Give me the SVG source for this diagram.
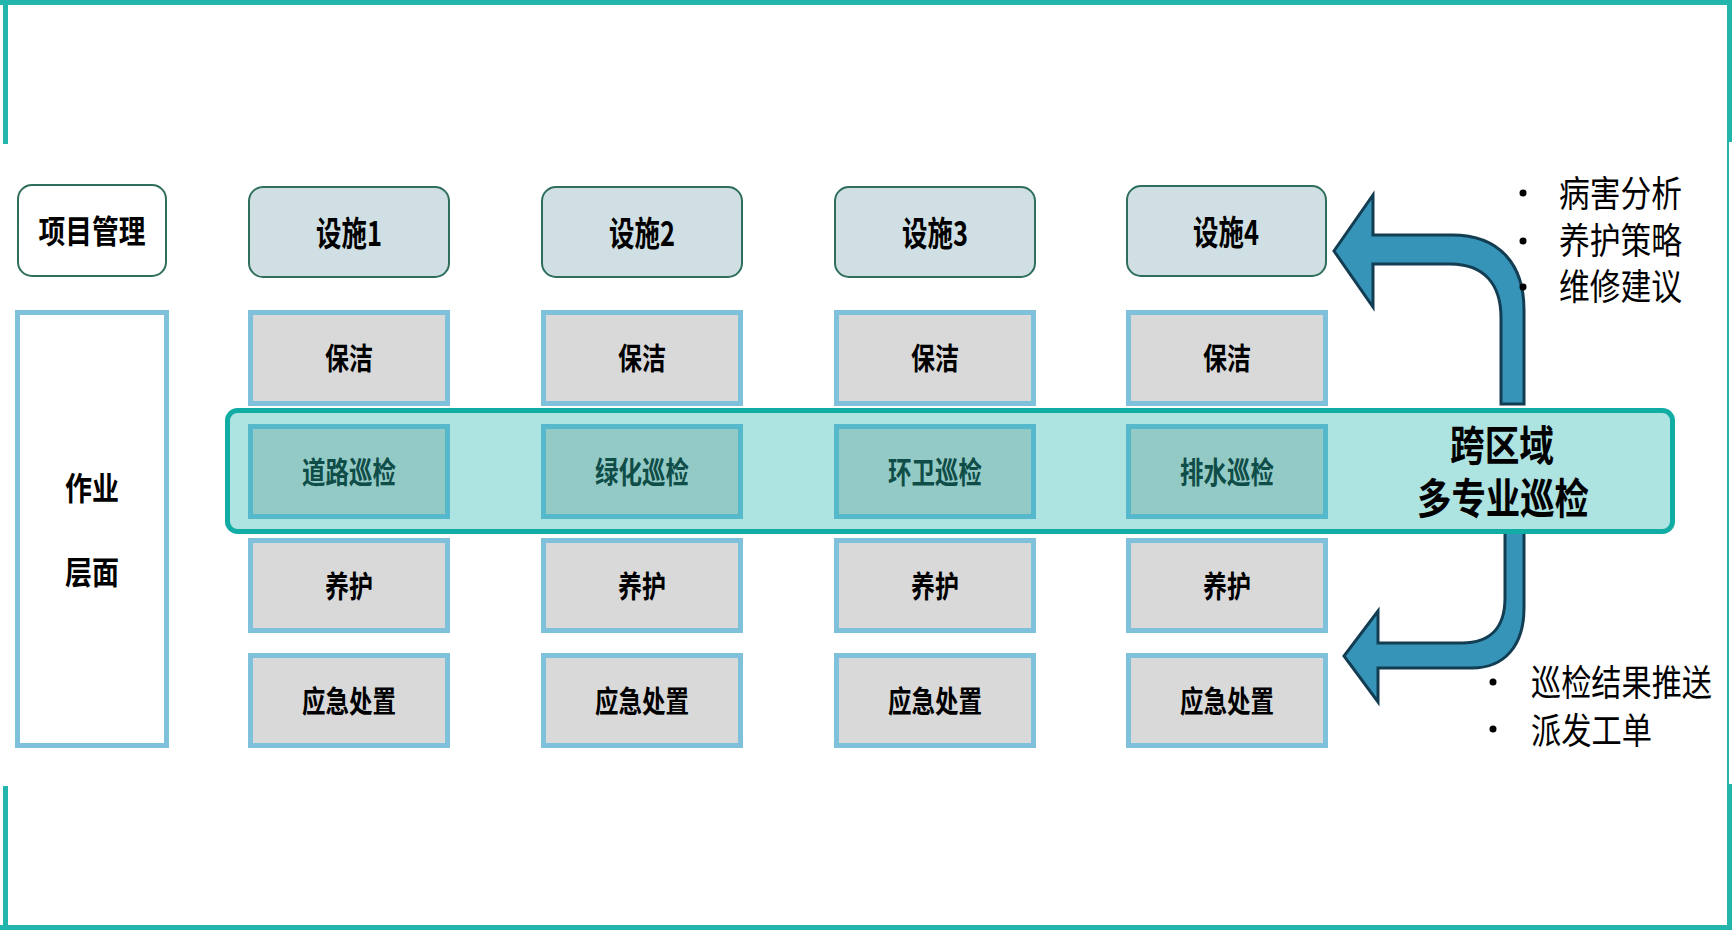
<svg xmlns="http://www.w3.org/2000/svg" width="1732" height="930" viewBox="0 0 1732 930">
<style>
.hdr{fill:#cfdfe3;stroke:#2f6e5c;stroke-width:2}
.pm{fill:#ffffff;stroke:#2f6e5c;stroke-width:2}
.cell{fill:#d9d9d9;stroke:#7fc0db;stroke-width:5}
.side{fill:#ffffff;stroke:#7fc0db;stroke-width:5}
.pat{fill:#94cac6;stroke:#56b9cb;stroke-width:5}
.band{fill:#ade3e1;stroke:#11aca3;stroke-width:5}
.arrow{fill:#3594b8;stroke:#123d52;stroke-width:3;stroke-linejoin:miter}
.frame{fill:none;stroke:#22b5ab}
text{font-family:"Noto Sans CJK SC","Liberation Sans",sans-serif;text-anchor:middle;dominant-baseline:central}
.b{font-weight:bold;fill:#000}
.t{font-weight:bold;fill:#0f4d48}
.r{font-weight:normal;fill:#000;text-anchor:start}
</style>
<g id="frame">
<path class="frame" stroke-width="5" d="M0,2.5 H1732 M5.5,0 V144 M5.5,786 V930 M0,927.5 H1732 M1729.5,0 V142 M1729.5,784 V930"/>
<path class="frame" stroke-width="2" d="M1728,142 V784"/>
</g>
<g id="connectors">
<path class="arrow" d="M1501,404 L1501,318 C1501,285 1485,264 1450,264 L1373,264 L1373,307 L1334,251 L1373,195 L1373,235 L1452,235 C1500,235 1524,265 1524,310 L1524,404 Z"/>
<path class="arrow" d="M1505,530 L1505,598 C1505,628 1490,643 1462,643 L1378,643 L1378,611 L1344,656 L1378,702 L1378,668 L1472,668 C1505,668 1524,645 1524,608 L1524,530 Z"/>
</g>
<g id="band"><rect class="band" x="227.5" y="410.5" width="1445" height="121" rx="10"/>
<text class="b" x="1502" y="442" font-size="42" textLength="104" lengthAdjust="spacingAndGlyphs">跨区域</text>
<text class="b" x="1503" y="495" font-size="42" textLength="172" lengthAdjust="spacingAndGlyphs">多专业巡检</text>
</g>
<g id="pm"><rect class="pm" x="18" y="185" width="148" height="91" rx="14"/><text class="b" x="92" y="229" font-size="32" textLength="107" lengthAdjust="spacingAndGlyphs">项目管理</text></g>
<g id="work"><rect class="side" x="17.5" y="312.5" width="149" height="433"/>
<text class="b" x="92" y="486" font-size="32" textLength="54" lengthAdjust="spacingAndGlyphs">作业</text>
<text class="b" x="92" y="570" font-size="32" textLength="54" lengthAdjust="spacingAndGlyphs">层面</text></g>
<g id="col1">
<g id="h1"><rect class="hdr" x="249" y="187" width="200" height="90" rx="14"/><text class="b" x="349" y="231" font-size="34" textLength="66" lengthAdjust="spacingAndGlyphs">设施1</text></g>
<g id="c1a"><rect class="cell" x="250.5" y="312.5" width="197" height="91"/><text class="b" x="349" y="356" font-size="30" textLength="48" lengthAdjust="spacingAndGlyphs">保洁</text></g>
<g id="c1b"><rect class="pat" x="250.5" y="426.5" width="197" height="90"/><text class="t" x="349" y="470" font-size="30" textLength="94" lengthAdjust="spacingAndGlyphs">道路巡检</text></g>
<g id="c1c"><rect class="cell" x="250.5" y="540.5" width="197" height="90"/><text class="b" x="349" y="584" font-size="30" textLength="48" lengthAdjust="spacingAndGlyphs">养护</text></g>
<g id="c1d"><rect class="cell" x="250.5" y="655.5" width="197" height="90"/><text class="b" x="349" y="699" font-size="30" textLength="94" lengthAdjust="spacingAndGlyphs">应急处置</text></g>
</g>
<g id="col2">
<g id="h2"><rect class="hdr" x="542" y="187" width="200" height="90" rx="14"/><text class="b" x="642" y="231" font-size="34" textLength="66" lengthAdjust="spacingAndGlyphs">设施2</text></g>
<g id="c2a"><rect class="cell" x="543.5" y="312.5" width="197" height="91"/><text class="b" x="642" y="356" font-size="30" textLength="48" lengthAdjust="spacingAndGlyphs">保洁</text></g>
<g id="c2b"><rect class="pat" x="543.5" y="426.5" width="197" height="90"/><text class="t" x="642" y="470" font-size="30" textLength="94" lengthAdjust="spacingAndGlyphs">绿化巡检</text></g>
<g id="c2c"><rect class="cell" x="543.5" y="540.5" width="197" height="90"/><text class="b" x="642" y="584" font-size="30" textLength="48" lengthAdjust="spacingAndGlyphs">养护</text></g>
<g id="c2d"><rect class="cell" x="543.5" y="655.5" width="197" height="90"/><text class="b" x="642" y="699" font-size="30" textLength="94" lengthAdjust="spacingAndGlyphs">应急处置</text></g>
</g>
<g id="col3">
<g id="h3"><rect class="hdr" x="835" y="187" width="200" height="90" rx="14"/><text class="b" x="935" y="231" font-size="34" textLength="66" lengthAdjust="spacingAndGlyphs">设施3</text></g>
<g id="c3a"><rect class="cell" x="836.5" y="312.5" width="197" height="91"/><text class="b" x="935" y="356" font-size="30" textLength="48" lengthAdjust="spacingAndGlyphs">保洁</text></g>
<g id="c3b"><rect class="pat" x="836.5" y="426.5" width="197" height="90"/><text class="t" x="935" y="470" font-size="30" textLength="94" lengthAdjust="spacingAndGlyphs">环卫巡检</text></g>
<g id="c3c"><rect class="cell" x="836.5" y="540.5" width="197" height="90"/><text class="b" x="935" y="584" font-size="30" textLength="48" lengthAdjust="spacingAndGlyphs">养护</text></g>
<g id="c3d"><rect class="cell" x="836.5" y="655.5" width="197" height="90"/><text class="b" x="935" y="699" font-size="30" textLength="94" lengthAdjust="spacingAndGlyphs">应急处置</text></g>
</g>
<g id="col4">
<g id="h4"><rect class="hdr" x="1127" y="186" width="199" height="90" rx="14"/><text class="b" x="1226" y="230" font-size="34" textLength="66" lengthAdjust="spacingAndGlyphs">设施4</text></g>
<g id="c4a"><rect class="cell" x="1128.5" y="312.5" width="197" height="91"/><text class="b" x="1227" y="356" font-size="30" textLength="48" lengthAdjust="spacingAndGlyphs">保洁</text></g>
<g id="c4b"><rect class="pat" x="1128.5" y="426.5" width="197" height="90"/><text class="t" x="1227" y="470" font-size="30" textLength="94" lengthAdjust="spacingAndGlyphs">排水巡检</text></g>
<g id="c4c"><rect class="cell" x="1128.5" y="540.5" width="197" height="90"/><text class="b" x="1227" y="584" font-size="30" textLength="48" lengthAdjust="spacingAndGlyphs">养护</text></g>
<g id="c4d"><rect class="cell" x="1128.5" y="655.5" width="197" height="90"/><text class="b" x="1227" y="699" font-size="30" textLength="94" lengthAdjust="spacingAndGlyphs">应急处置</text></g>
</g>
<g id="notes-top">
<circle cx="1523" cy="193" r="3.5" fill="#000"/><circle cx="1523" cy="241" r="3.5" fill="#000"/><circle cx="1523" cy="287" r="3.5" fill="#000"/>
<text class="r" x="1559" y="191" font-size="36" textLength="123" lengthAdjust="spacingAndGlyphs">病害分析</text>
<text class="r" x="1559" y="238" font-size="36" textLength="123" lengthAdjust="spacingAndGlyphs">养护策略</text>
<text class="r" x="1559" y="284" font-size="36" textLength="123" lengthAdjust="spacingAndGlyphs">维修建议</text>
</g>
<g id="notes-bottom">
<circle cx="1493" cy="682" r="3.5" fill="#000"/><circle cx="1493" cy="729" r="3.5" fill="#000"/>
<text class="r" x="1531" y="680" font-size="36" textLength="181" lengthAdjust="spacingAndGlyphs">巡检结果推送</text>
<text class="r" x="1531" y="728" font-size="36" textLength="121" lengthAdjust="spacingAndGlyphs">派发工单</text>
</g>
</svg>
